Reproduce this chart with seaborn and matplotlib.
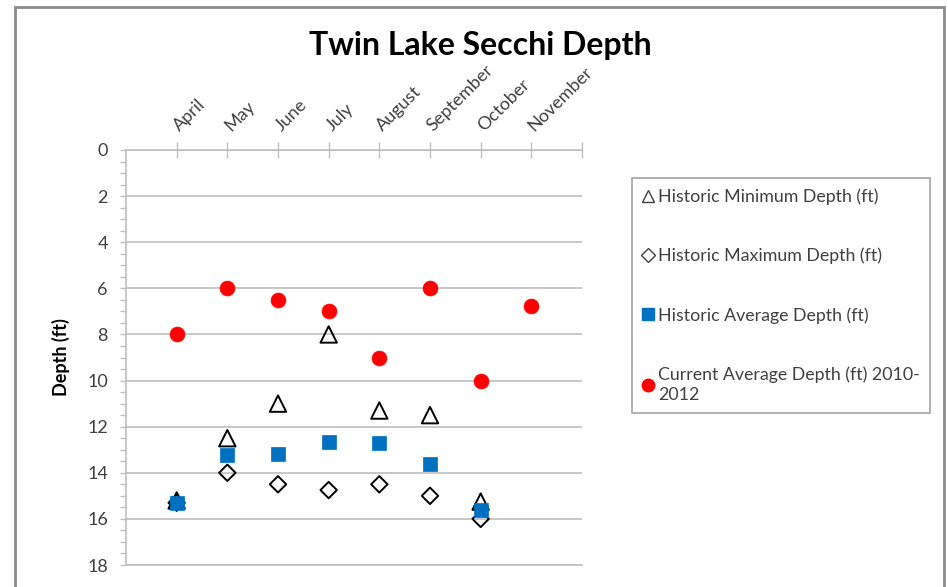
import numpy as np
import pandas as pd
import matplotlib
matplotlib.use("Agg")
import matplotlib.pyplot as plt
import seaborn as sns
from matplotlib.lines import Line2D
from matplotlib.patches import Rectangle
from matplotlib.ticker import FixedLocator, MultipleLocator

# ---------------- data ----------------
months = ["April", "May", "June", "July", "August", "September", "October", "November"]
month_pos = [1, 2, 3, 4, 5, 6, 7, 8]
hist_min = [15.2, 12.5, 11.0, 8.0, 11.3, 11.5, 15.25, np.nan]
hist_max = [15.3, 14.0, 14.5, 14.75, 14.5, 15.0, 16.0, np.nan]
hist_avg = [15.3, 13.25, 13.2, 12.65, 12.7, 13.6, 15.6, np.nan]
current_avg = [8.0, 6.0, 6.5, 7.0, 9.0, 6.0, 10.0, 6.75]
y_ticks = [0, 2, 4, 6, 8, 10, 12, 14, 16, 18]
series_labels = [
    "Historic Minimum Depth (ft)",
    "Historic Maximum Depth (ft)",
    "Historic Average Depth (ft)",
    "Current Average Depth (ft) 2010-\n2012",
]
title = "Twin Lake Secchi Depth"
y_label = "Depth (ft)"

# ---------------- style ----------------
sns.set_style("white")
plt.rcParams["font.family"] = ["Lato", "DejaVu Sans"]

W, H = 948, 587
fig = plt.figure(figsize=(W / 100, H / 100), dpi=100)
fig.patch.set_facecolor("white")

# outer chart border
fig.patches.append(Rectangle((15 / W, -0.05), (944 - 15) / W, 1 - 7 / H + 0.05,
                             transform=fig.transFigure, fill=False,
                             edgecolor="#8c8c8c", linewidth=2, zorder=0))

ax = fig.add_axes([126 / W, 1 - 565 / H, 456 / W, (565 - 150) / H])
ax.set_facecolor("white")

grid_c = "#bfbfbf"
text_c = "#404040"

df = pd.DataFrame({"pos": month_pos, "min": hist_min, "max": hist_max,
                   "avg": hist_avg, "cur": current_avg})

sns.scatterplot(data=df, x="pos", y="min", ax=ax, marker="^", s=140,
                facecolor="none", edgecolor="black", linewidth=1.4, zorder=3)
sns.scatterplot(data=df, x="pos", y="max", ax=ax, marker="D", s=70,
                facecolor="none", edgecolor="black", linewidth=1.4, zorder=3)
sns.scatterplot(data=df, x="pos", y="avg", ax=ax, marker="s", s=100,
                color="#0070C0", edgecolor="#0070C0", linewidth=0.5, zorder=4)
sns.scatterplot(data=df, x="pos", y="cur", ax=ax, marker="o", s=115,
                color="#FF0000", edgecolor="#FF0000", linewidth=0.5, zorder=5)

ax.set_xlim(0, 9)
ax.set_ylim(18, 0)
ax.set_xlabel("")
ax.set_ylabel(y_label, fontsize=13, fontweight="bold", color="black")
ax.yaxis.set_label_coords((70 - 126) / 456, 0.5)

# y axis
ax.yaxis.set_major_locator(FixedLocator(y_ticks))
ax.yaxis.set_minor_locator(MultipleLocator(0.5))
ax.set_yticklabels([str(t) for t in y_ticks], fontsize=13, color=text_c)
ax.tick_params(axis="y", which="both", direction="out", length=4, width=1,
               color=grid_c, left=True, pad=9)
ax.grid(axis="y", which="major", color=grid_c, linewidth=1.2)
ax.set_axisbelow(True)

# x axis on top
ax.xaxis.tick_top()
ax.set_xticks(month_pos + [9])
ax.set_xticklabels(months + [""], fontsize=13, color=text_c,
                   rotation=45, ha="left", va="center", rotation_mode="anchor")
ax.tick_params(axis="x", which="both", direction="inout", length=11, width=1,
               color=grid_c, top=True, bottom=False, pad=10)

for side in ["top", "left", "bottom"]:
    ax.spines[side].set_color(grid_c)
    ax.spines[side].set_linewidth(1.2)
ax.spines["right"].set_visible(False)

fig.text(480 / W, 1 - 46 / H, title, ha="center", va="center",
         fontsize=23, fontweight="bold", color="black")

handles = [
    Line2D([], [], linestyle="", marker="^", markersize=9, markerfacecolor="none",
           markeredgecolor="#404040", markeredgewidth=1),
    Line2D([], [], linestyle="", marker="D", markersize=7, markerfacecolor="none",
           markeredgecolor="#404040", markeredgewidth=1),
    Line2D([], [], linestyle="", marker="s", markersize=9, color="#0070C0"),
    Line2D([], [], linestyle="", marker="o", markersize=9, color="#FF0000"),
]
leg = fig.legend(handles, series_labels, loc="upper left",
                 bbox_to_anchor=(632 / W, 1 - 178 / H), bbox_transform=fig.transFigure,
                 borderaxespad=0, frameon=True, fancybox=False, fontsize=12.8,
                 handlelength=0.6, handletextpad=0.25, labelspacing=2.4,
                 borderpad=0.6, labelcolor=text_c)
for t in leg.get_texts():
    t.set_linespacing(1.3)
leg.get_frame().set_edgecolor("#8c8c8c")
leg.get_frame().set_linewidth(1.2)

fig.savefig("out.png", dpi=100, facecolor="white")
